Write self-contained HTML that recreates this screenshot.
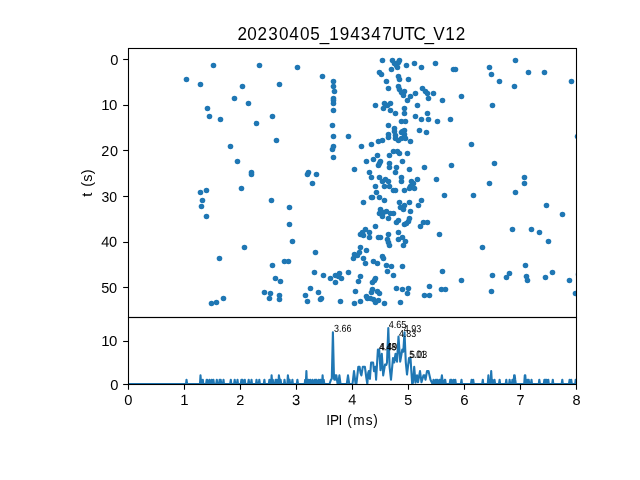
<!DOCTYPE html>
<html><head><meta charset="utf-8"><title>20230405_194347UTC_V12</title>
<style>
html,body{margin:0;padding:0;background:#fff;overflow:hidden;}
svg{display:block;will-change:transform;}
text{font-family:"Liberation Sans",sans-serif;fill:#000;}
</style></head><body>
<svg width="640" height="480" viewBox="0 0 640 480">
<rect x="0" y="0" width="640" height="480" fill="#ffffff"/>
<defs><clipPath id="c1"><rect x="128" y="48" width="448" height="269"/></clipPath>
<clipPath id="c2"><rect x="128" y="317" width="448" height="67"/></clipPath></defs>

<g clip-path="url(#c1)" fill="#1f77b4">
<circle cx="213.5" cy="65.5" r="2.78"/>
<circle cx="259.5" cy="65.5" r="2.78"/>
<circle cx="186.5" cy="79.5" r="2.78"/>
<circle cx="200.5" cy="84.5" r="2.78"/>
<circle cx="242.5" cy="86.5" r="2.78"/>
<circle cx="279.5" cy="84.5" r="2.78"/>
<circle cx="234.5" cy="98.5" r="2.78"/>
<circle cx="248.5" cy="103.5" r="2.78"/>
<circle cx="207.5" cy="108.5" r="2.78"/>
<circle cx="209.5" cy="116.5" r="2.78"/>
<circle cx="220.5" cy="119.5" r="2.78"/>
<circle cx="272.5" cy="116.5" r="2.78"/>
<circle cx="256.5" cy="123.5" r="2.78"/>
<circle cx="276.5" cy="140.5" r="2.78"/>
<circle cx="230.5" cy="146.5" r="2.78"/>
<circle cx="237.5" cy="161.5" r="2.78"/>
<circle cx="251.5" cy="172.5" r="2.78"/>
<circle cx="251.5" cy="174.5" r="2.78"/>
<circle cx="241.5" cy="188.5" r="2.78"/>
<circle cx="206.5" cy="190.5" r="2.78"/>
<circle cx="200.5" cy="192.5" r="2.78"/>
<circle cx="202.5" cy="200.5" r="2.78"/>
<circle cx="271.5" cy="200.5" r="2.78"/>
<circle cx="201.5" cy="206.5" r="2.78"/>
<circle cx="206.5" cy="216.5" r="2.78"/>
<circle cx="244.5" cy="247.5" r="2.78"/>
<circle cx="219.5" cy="258.5" r="2.78"/>
<circle cx="272.5" cy="265.5" r="2.78"/>
<circle cx="275.5" cy="278.5" r="2.78"/>
<circle cx="264.5" cy="292.5" r="2.78"/>
<circle cx="270.5" cy="293.5" r="2.78"/>
<circle cx="269.5" cy="298.5" r="2.78"/>
<circle cx="223.5" cy="298.5" r="2.78"/>
<circle cx="216.5" cy="302.5" r="2.78"/>
<circle cx="211.5" cy="303.5" r="2.78"/>
<circle cx="297.5" cy="67.5" r="2.78"/>
<circle cx="322.5" cy="76.5" r="2.78"/>
<circle cx="333.5" cy="81.5" r="2.78"/>
<circle cx="333.5" cy="86.5" r="2.78"/>
<circle cx="334.5" cy="91.5" r="2.78"/>
<circle cx="333.5" cy="98.5" r="2.78"/>
<circle cx="333.5" cy="100.5" r="2.78"/>
<circle cx="333.5" cy="103.5" r="2.78"/>
<circle cx="333.5" cy="110.5" r="2.78"/>
<circle cx="332.5" cy="125.5" r="2.78"/>
<circle cx="333.5" cy="136.5" r="2.78"/>
<circle cx="348.5" cy="136.5" r="2.78"/>
<circle cx="333.5" cy="146.5" r="2.78"/>
<circle cx="332.5" cy="149.5" r="2.78"/>
<circle cx="333.5" cy="157.5" r="2.78"/>
<circle cx="361.5" cy="146.5" r="2.78"/>
<circle cx="366.5" cy="161.5" r="2.78"/>
<circle cx="354.5" cy="169.5" r="2.78"/>
<circle cx="308.5" cy="172.5" r="2.78"/>
<circle cx="307.5" cy="174.5" r="2.78"/>
<circle cx="316.5" cy="174.5" r="2.78"/>
<circle cx="312.5" cy="183.5" r="2.78"/>
<circle cx="289.5" cy="207.5" r="2.78"/>
<circle cx="289.5" cy="224.5" r="2.78"/>
<circle cx="292.5" cy="241.5" r="2.78"/>
<circle cx="315.5" cy="252.5" r="2.78"/>
<circle cx="363.5" cy="202.5" r="2.78"/>
<circle cx="365.5" cy="229.5" r="2.78"/>
<circle cx="360.5" cy="234.5" r="2.78"/>
<circle cx="363.5" cy="235.5" r="2.78"/>
<circle cx="360.5" cy="247.5" r="2.78"/>
<circle cx="366.5" cy="250.5" r="2.78"/>
<circle cx="359.5" cy="252.5" r="2.78"/>
<circle cx="284.5" cy="261.5" r="2.78"/>
<circle cx="288.5" cy="261.5" r="2.78"/>
<circle cx="280.5" cy="281.5" r="2.78"/>
<circle cx="279.5" cy="295.5" r="2.78"/>
<circle cx="279.5" cy="299.5" r="2.78"/>
<circle cx="314.5" cy="272.5" r="2.78"/>
<circle cx="323.5" cy="275.5" r="2.78"/>
<circle cx="330.5" cy="278.5" r="2.78"/>
<circle cx="335.5" cy="275.5" r="2.78"/>
<circle cx="339.5" cy="273.5" r="2.78"/>
<circle cx="338.5" cy="276.5" r="2.78"/>
<circle cx="341.5" cy="278.5" r="2.78"/>
<circle cx="335.5" cy="282.5" r="2.78"/>
<circle cx="348.5" cy="272.5" r="2.78"/>
<circle cx="310.5" cy="288.5" r="2.78"/>
<circle cx="318.5" cy="292.5" r="2.78"/>
<circle cx="305.5" cy="295.5" r="2.78"/>
<circle cx="307.5" cy="301.5" r="2.78"/>
<circle cx="321.5" cy="298.5" r="2.78"/>
<circle cx="320.5" cy="299.5" r="2.78"/>
<circle cx="340.5" cy="301.5" r="2.78"/>
<circle cx="360.5" cy="276.5" r="2.78"/>
<circle cx="358.5" cy="281.5" r="2.78"/>
<circle cx="355.5" cy="291.5" r="2.78"/>
<circle cx="354.5" cy="303.5" r="2.78"/>
<circle cx="360.5" cy="301.5" r="2.78"/>
<circle cx="366.5" cy="296.5" r="2.78"/>
<circle cx="367.5" cy="298.5" r="2.78"/>
<circle cx="354.5" cy="254.5" r="2.78"/>
<circle cx="357.5" cy="255.5" r="2.78"/>
<circle cx="353.5" cy="258.5" r="2.78"/>
<circle cx="363.5" cy="258.5" r="2.78"/>
<circle cx="365.5" cy="263.5" r="2.78"/>
<circle cx="515.5" cy="60.5" r="2.78"/>
<circle cx="453.5" cy="69.5" r="2.78"/>
<circle cx="455.5" cy="69.5" r="2.78"/>
<circle cx="489.5" cy="67.5" r="2.78"/>
<circle cx="491.5" cy="74.5" r="2.78"/>
<circle cx="528.5" cy="72.5" r="2.78"/>
<circle cx="544.5" cy="72.5" r="2.78"/>
<circle cx="499.5" cy="81.5" r="2.78"/>
<circle cx="571.5" cy="81.5" r="2.78"/>
<circle cx="514.5" cy="86.5" r="2.78"/>
<circle cx="461.5" cy="96.5" r="2.78"/>
<circle cx="442.5" cy="100.5" r="2.78"/>
<circle cx="492.5" cy="105.5" r="2.78"/>
<circle cx="450.5" cy="119.5" r="2.78"/>
<circle cx="577.5" cy="136.5" r="2.78"/>
<circle cx="471.5" cy="144.5" r="2.78"/>
<circle cx="451.5" cy="165.5" r="2.78"/>
<circle cx="494.5" cy="163.5" r="2.78"/>
<circle cx="524.5" cy="177.5" r="2.78"/>
<circle cx="524.5" cy="183.5" r="2.78"/>
<circle cx="489.5" cy="183.5" r="2.78"/>
<circle cx="515.5" cy="192.5" r="2.78"/>
<circle cx="444.5" cy="195.5" r="2.78"/>
<circle cx="473.5" cy="195.5" r="2.78"/>
<circle cx="546.5" cy="205.5" r="2.78"/>
<circle cx="562.5" cy="214.5" r="2.78"/>
<circle cx="512.5" cy="229.5" r="2.78"/>
<circle cx="531.5" cy="229.5" r="2.78"/>
<circle cx="539.5" cy="232.5" r="2.78"/>
<circle cx="548.5" cy="241.5" r="2.78"/>
<circle cx="482.5" cy="247.5" r="2.78"/>
<circle cx="525.5" cy="265.5" r="2.78"/>
<circle cx="442.5" cy="271.5" r="2.78"/>
<circle cx="552.5" cy="272.5" r="2.78"/>
<circle cx="492.5" cy="275.5" r="2.78"/>
<circle cx="509.5" cy="273.5" r="2.78"/>
<circle cx="506.5" cy="277.5" r="2.78"/>
<circle cx="526.5" cy="276.5" r="2.78"/>
<circle cx="527.5" cy="280.5" r="2.78"/>
<circle cx="545.5" cy="277.5" r="2.78"/>
<circle cx="461.5" cy="280.5" r="2.78"/>
<circle cx="569.5" cy="280.5" r="2.78"/>
<circle cx="578.5" cy="274.5" r="2.78"/>
<circle cx="441.5" cy="289.5" r="2.78"/>
<circle cx="445.5" cy="289.5" r="2.78"/>
<circle cx="491.5" cy="291.5" r="2.78"/>
<circle cx="575.5" cy="293.5" r="2.78"/>
<circle cx="382.5" cy="60.5" r="2.78"/>
<circle cx="392.5" cy="60.5" r="2.78"/>
<circle cx="399.5" cy="60.5" r="2.78"/>
<circle cx="394.5" cy="63.5" r="2.78"/>
<circle cx="398.5" cy="62.5" r="2.78"/>
<circle cx="396.5" cy="65.5" r="2.78"/>
<circle cx="397.5" cy="67.5" r="2.78"/>
<circle cx="391.5" cy="69.5" r="2.78"/>
<circle cx="406.5" cy="65.5" r="2.78"/>
<circle cx="414.5" cy="63.5" r="2.78"/>
<circle cx="421.5" cy="67.5" r="2.78"/>
<circle cx="379.5" cy="72.5" r="2.78"/>
<circle cx="381.5" cy="74.5" r="2.78"/>
<circle cx="386.5" cy="81.5" r="2.78"/>
<circle cx="388.5" cy="88.5" r="2.78"/>
<circle cx="398.5" cy="76.5" r="2.78"/>
<circle cx="399.5" cy="79.5" r="2.78"/>
<circle cx="408.5" cy="79.5" r="2.78"/>
<circle cx="398.5" cy="86.5" r="2.78"/>
<circle cx="399.5" cy="89.5" r="2.78"/>
<circle cx="404.5" cy="91.5" r="2.78"/>
<circle cx="401.5" cy="92.5" r="2.78"/>
<circle cx="403.5" cy="95.5" r="2.78"/>
<circle cx="410.5" cy="96.5" r="2.78"/>
<circle cx="415.5" cy="93.5" r="2.78"/>
<circle cx="422.5" cy="88.5" r="2.78"/>
<circle cx="407.5" cy="100.5" r="2.78"/>
<circle cx="375.5" cy="105.5" r="2.78"/>
<circle cx="384.5" cy="103.5" r="2.78"/>
<circle cx="390.5" cy="103.5" r="2.78"/>
<circle cx="387.5" cy="105.5" r="2.78"/>
<circle cx="383.5" cy="108.5" r="2.78"/>
<circle cx="390.5" cy="110.5" r="2.78"/>
<circle cx="395.5" cy="113.5" r="2.78"/>
<circle cx="404.5" cy="108.5" r="2.78"/>
<circle cx="404.5" cy="113.5" r="2.78"/>
<circle cx="417.5" cy="105.5" r="2.78"/>
<circle cx="415.5" cy="116.5" r="2.78"/>
<circle cx="421.5" cy="119.5" r="2.78"/>
<circle cx="401.5" cy="121.5" r="2.78"/>
<circle cx="405.5" cy="121.5" r="2.78"/>
<circle cx="388.5" cy="125.5" r="2.78"/>
<circle cx="394.5" cy="128.5" r="2.78"/>
<circle cx="394.5" cy="131.5" r="2.78"/>
<circle cx="419.5" cy="130.5" r="2.78"/>
<circle cx="404.5" cy="130.5" r="2.78"/>
<circle cx="401.5" cy="132.5" r="2.78"/>
<circle cx="388.5" cy="134.5" r="2.78"/>
<circle cx="404.5" cy="134.5" r="2.78"/>
<circle cx="395.5" cy="135.5" r="2.78"/>
<circle cx="388.5" cy="137.5" r="2.78"/>
<circle cx="404.5" cy="137.5" r="2.78"/>
<circle cx="395.5" cy="138.5" r="2.78"/>
<circle cx="398.5" cy="140.5" r="2.78"/>
<circle cx="401.5" cy="138.5" r="2.78"/>
<circle cx="405.5" cy="138.5" r="2.78"/>
<circle cx="410.5" cy="141.5" r="2.78"/>
<circle cx="382.5" cy="140.5" r="2.78"/>
<circle cx="378.5" cy="141.5" r="2.78"/>
<circle cx="371.5" cy="144.5" r="2.78"/>
<circle cx="393.5" cy="151.5" r="2.78"/>
<circle cx="397.5" cy="151.5" r="2.78"/>
<circle cx="399.5" cy="153.5" r="2.78"/>
<circle cx="407.5" cy="153.5" r="2.78"/>
<circle cx="389.5" cy="155.5" r="2.78"/>
<circle cx="377.5" cy="155.5" r="2.78"/>
<circle cx="373.5" cy="159.5" r="2.78"/>
<circle cx="380.5" cy="161.5" r="2.78"/>
<circle cx="378.5" cy="165.5" r="2.78"/>
<circle cx="389.5" cy="163.5" r="2.78"/>
<circle cx="389.5" cy="167.5" r="2.78"/>
<circle cx="402.5" cy="161.5" r="2.78"/>
<circle cx="396.5" cy="167.5" r="2.78"/>
<circle cx="409.5" cy="169.5" r="2.78"/>
<circle cx="395.5" cy="172.5" r="2.78"/>
<circle cx="369.5" cy="172.5" r="2.78"/>
<circle cx="371.5" cy="177.5" r="2.78"/>
<circle cx="379.5" cy="177.5" r="2.78"/>
<circle cx="385.5" cy="179.5" r="2.78"/>
<circle cx="382.5" cy="181.5" r="2.78"/>
<circle cx="388.5" cy="181.5" r="2.78"/>
<circle cx="401.5" cy="177.5" r="2.78"/>
<circle cx="401.5" cy="181.5" r="2.78"/>
<circle cx="417.5" cy="179.5" r="2.78"/>
<circle cx="411.5" cy="181.5" r="2.78"/>
<circle cx="413.5" cy="183.5" r="2.78"/>
<circle cx="410.5" cy="186.5" r="2.78"/>
<circle cx="409.5" cy="188.5" r="2.78"/>
<circle cx="414.5" cy="188.5" r="2.78"/>
<circle cx="404.5" cy="190.5" r="2.78"/>
<circle cx="375.5" cy="186.5" r="2.78"/>
<circle cx="384.5" cy="186.5" r="2.78"/>
<circle cx="389.5" cy="186.5" r="2.78"/>
<circle cx="393.5" cy="190.5" r="2.78"/>
<circle cx="395.5" cy="190.5" r="2.78"/>
<circle cx="376.5" cy="192.5" r="2.78"/>
<circle cx="371.5" cy="197.5" r="2.78"/>
<circle cx="379.5" cy="197.5" r="2.78"/>
<circle cx="384.5" cy="200.5" r="2.78"/>
<circle cx="399.5" cy="202.5" r="2.78"/>
<circle cx="409.5" cy="202.5" r="2.78"/>
<circle cx="421.5" cy="200.5" r="2.78"/>
<circle cx="418.5" cy="205.5" r="2.78"/>
<circle cx="404.5" cy="205.5" r="2.78"/>
<circle cx="400.5" cy="207.5" r="2.78"/>
<circle cx="403.5" cy="209.5" r="2.78"/>
<circle cx="410.5" cy="211.5" r="2.78"/>
<circle cx="380.5" cy="209.5" r="2.78"/>
<circle cx="386.5" cy="211.5" r="2.78"/>
<circle cx="379.5" cy="213.5" r="2.78"/>
<circle cx="383.5" cy="212.5" r="2.78"/>
<circle cx="393.5" cy="213.5" r="2.78"/>
<circle cx="390.5" cy="213.5" r="2.78"/>
<circle cx="382.5" cy="216.5" r="2.78"/>
<circle cx="388.5" cy="218.5" r="2.78"/>
<circle cx="409.5" cy="218.5" r="2.78"/>
<circle cx="408.5" cy="221.5" r="2.78"/>
<circle cx="398.5" cy="220.5" r="2.78"/>
<circle cx="396.5" cy="222.5" r="2.78"/>
<circle cx="404.5" cy="224.5" r="2.78"/>
<circle cx="406.5" cy="223.5" r="2.78"/>
<circle cx="420.5" cy="226.5" r="2.78"/>
<circle cx="375.5" cy="226.5" r="2.78"/>
<circle cx="369.5" cy="232.5" r="2.78"/>
<circle cx="369.5" cy="237.5" r="2.78"/>
<circle cx="378.5" cy="237.5" r="2.78"/>
<circle cx="380.5" cy="237.5" r="2.78"/>
<circle cx="388.5" cy="234.5" r="2.78"/>
<circle cx="387.5" cy="239.5" r="2.78"/>
<circle cx="388.5" cy="242.5" r="2.78"/>
<circle cx="389.5" cy="245.5" r="2.78"/>
<circle cx="398.5" cy="232.5" r="2.78"/>
<circle cx="402.5" cy="237.5" r="2.78"/>
<circle cx="398.5" cy="239.5" r="2.78"/>
<circle cx="405.5" cy="241.5" r="2.78"/>
<circle cx="403.5" cy="245.5" r="2.78"/>
<circle cx="382.5" cy="256.5" r="2.78"/>
<circle cx="383.5" cy="258.5" r="2.78"/>
<circle cx="373.5" cy="261.5" r="2.78"/>
<circle cx="377.5" cy="263.5" r="2.78"/>
<circle cx="386.5" cy="265.5" r="2.78"/>
<circle cx="391.5" cy="266.5" r="2.78"/>
<circle cx="402.5" cy="266.5" r="2.78"/>
<circle cx="387.5" cy="271.5" r="2.78"/>
<circle cx="393.5" cy="275.5" r="2.78"/>
<circle cx="375.5" cy="278.5" r="2.78"/>
<circle cx="372.5" cy="282.5" r="2.78"/>
<circle cx="374.5" cy="280.5" r="2.78"/>
<circle cx="372.5" cy="289.5" r="2.78"/>
<circle cx="371.5" cy="292.5" r="2.78"/>
<circle cx="377.5" cy="291.5" r="2.78"/>
<circle cx="379.5" cy="293.5" r="2.78"/>
<circle cx="396.5" cy="288.5" r="2.78"/>
<circle cx="402.5" cy="289.5" r="2.78"/>
<circle cx="408.5" cy="288.5" r="2.78"/>
<circle cx="407.5" cy="293.5" r="2.78"/>
<circle cx="370.5" cy="298.5" r="2.78"/>
<circle cx="373.5" cy="299.5" r="2.78"/>
<circle cx="375.5" cy="302.5" r="2.78"/>
<circle cx="378.5" cy="300.5" r="2.78"/>
<circle cx="384.5" cy="303.5" r="2.78"/>
<circle cx="400.5" cy="302.5" r="2.78"/>
<circle cx="435.5" cy="63.5" r="2.78"/>
<circle cx="425.5" cy="91.5" r="2.78"/>
<circle cx="427.5" cy="93.5" r="2.78"/>
<circle cx="433.5" cy="93.5" r="2.78"/>
<circle cx="428.5" cy="98.5" r="2.78"/>
<circle cx="427.5" cy="113.5" r="2.78"/>
<circle cx="428.5" cy="119.5" r="2.78"/>
<circle cx="437.5" cy="121.5" r="2.78"/>
<circle cx="426.5" cy="132.5" r="2.78"/>
<circle cx="424.5" cy="167.5" r="2.78"/>
<circle cx="436.5" cy="179.5" r="2.78"/>
<circle cx="423.5" cy="222.5" r="2.78"/>
<circle cx="427.5" cy="222.5" r="2.78"/>
<circle cx="439.5" cy="234.5" r="2.78"/>
<circle cx="429.5" cy="286.5" r="2.78"/>
<circle cx="424.5" cy="295.5" r="2.78"/>
<circle cx="429.5" cy="295.5" r="2.78"/>
<circle cx="402.5" cy="131.5" r="2.78"/>
<circle cx="379.5" cy="163.5" r="2.78"/>
<circle cx="362.5" cy="232.5" r="2.78"/>
<circle cx="372.5" cy="197.5" r="2.78"/>
</g>
<g clip-path="url(#c2)"><polyline points="128.0,384.0 186.0,384.0 186.5,379.7 187.1,384.0 200.0,384.0 200.5,375.4 201.1,384.0 201.6,379.7 202.2,384.0 202.8,379.7 203.3,384.0 206.1,384.0 206.7,379.7 207.2,379.7 207.8,384.0 208.9,384.0 209.5,379.7 210.0,384.0 211.2,384.0 211.7,379.7 212.3,384.0 212.8,384.0 213.4,379.7 214.0,384.0 216.2,384.0 216.8,379.7 217.3,384.0 219.0,384.0 219.6,379.7 220.1,384.0 220.7,379.7 221.2,384.0 222.9,384.0 223.5,379.7 224.0,384.0 230.2,384.0 230.8,379.7 231.3,384.0 234.1,384.0 234.7,379.7 235.2,384.0 236.9,384.0 237.5,379.7 238.0,384.0 240.8,384.0 241.4,379.7 242.0,384.0 242.5,379.7 243.1,384.0 244.2,384.0 244.8,379.7 245.3,384.0 248.1,384.0 248.7,379.7 249.2,384.0 250.9,384.0 251.5,379.7 252.0,384.0 256.0,384.0 256.5,379.7 257.1,384.0 258.8,384.0 259.3,379.7 259.9,384.0 263.8,384.0 264.4,379.7 264.9,384.0 268.8,384.0 269.4,379.7 270.0,384.0 270.5,379.7 271.1,384.0 271.6,375.4 272.2,384.0 272.8,379.7 273.3,384.0 275.0,384.0 275.6,379.7 276.1,384.0 276.7,379.7 277.2,384.0 278.4,384.0 278.9,375.4 279.5,379.7 280.0,384.0 280.6,379.7 281.2,384.0 284.0,384.0 284.5,379.7 285.1,384.0 287.3,384.0 287.9,375.4 288.4,379.7 289.0,384.0 289.6,379.7 290.1,384.0 291.8,384.0 292.4,379.7 292.9,384.0 296.8,384.0 297.4,379.7 298.0,384.0 304.7,384.0 305.2,379.7 305.8,384.0 306.4,371.1 306.9,384.0 307.5,379.7 308.0,384.0 308.6,379.7 309.2,384.0 309.7,384.0 310.3,379.7 310.8,384.0 312.0,384.0 312.5,379.7 313.1,384.0 314.2,384.0 314.8,379.7 315.3,379.7 315.9,384.0 316.4,379.7 317.0,384.0 318.1,384.0 318.7,379.7 319.2,384.0 319.8,384.0 320.4,379.7 320.9,384.0 321.5,379.7 322.0,384.0 322.6,375.4 323.2,384.0 323.7,379.7 324.3,384.0 329.5,384.0 331.0,379.7 331.8,378.8 332.9,332.3 334.0,378.8 334.5,379.7 335.4,375.4 336.0,379.7 336.4,375.4 337.6,384.0 338.3,384.0 339.4,375.4 340.5,384.0 346.8,384.0 348.0,375.4 349.2,384.0 352.5,384.0 354.0,371.1 355.6,384.0 356.4,384.0 358.3,366.8 359.6,366.8 360.5,372.8 361.4,375.4 362.8,366.8 364.9,366.8 366.3,377.5 367.3,384.0 368.2,372.8 368.8,371.1 369.9,378.8 371.1,362.5 373.1,362.5 374.0,371.1 375.3,366.8 376.1,379.7 377.9,349.5 379.2,349.5 380.5,370.2 381.8,353.8 383.2,375.4 385.0,364.6 386.3,365.0 387.0,362.5 388.3,328.0 389.6,366.8 391.0,379.7 393.0,358.1 394.2,362.5 395.5,353.8 397.0,361.6 398.5,336.6 400.2,361.6 402.3,349.5 403.3,351.7 404.5,332.3 405.8,362.5 407.0,374.5 409.0,358.1 409.8,362.5 410.5,358.1 412.2,384.0 413.0,382.7 414.2,366.8 415.5,382.7 417.0,375.4 418.0,382.3 420.0,371.1 421.5,382.3 423.5,375.4 424.5,375.4 425.5,379.7 427.0,371.1 428.5,371.1 430.5,379.7 432.0,382.7 432.4,384.0 432.9,384.0 433.5,379.7 434.0,384.0 435.2,384.0 435.7,379.7 436.3,379.7 436.8,384.0 437.4,379.7 438.0,384.0 439.1,384.0 439.6,379.7 440.2,384.0 440.8,384.0 441.3,379.7 441.9,375.4 442.4,379.7 443.0,384.0 444.1,384.0 444.7,379.7 445.2,379.7 445.8,384.0 449.7,384.0 450.3,379.7 450.8,384.0 451.4,379.7 452.0,384.0 453.1,384.0 453.6,379.7 454.2,384.0 454.8,384.0 455.3,379.7 455.9,384.0 460.9,384.0 461.5,379.7 462.0,384.0 471.0,384.0 471.6,379.7 472.1,384.0 472.7,384.0 473.2,379.7 473.8,384.0 482.2,384.0 482.8,379.7 483.3,384.0 487.8,384.0 488.4,375.4 488.9,384.0 489.5,379.7 490.0,384.0 490.6,384.0 491.2,371.1 491.7,379.7 492.3,379.7 492.8,384.0 494.0,384.0 494.5,379.7 495.1,384.0 499.0,384.0 499.6,379.7 500.1,384.0 505.7,384.0 506.3,379.7 506.8,384.0 509.1,384.0 509.6,379.7 510.2,384.0 511.9,384.0 512.4,379.7 513.0,384.0 513.6,384.0 514.1,375.4 514.7,375.4 515.2,379.7 515.8,384.0 524.2,384.0 524.8,375.4 525.3,375.4 525.9,384.0 526.4,379.7 527.0,384.0 527.6,379.7 528.1,384.0 528.7,379.7 529.2,384.0 530.9,384.0 531.5,379.7 532.0,384.0 538.8,384.0 539.3,379.7 539.9,384.0 543.8,384.0 544.4,379.7 544.9,384.0 545.5,379.7 546.0,384.0 546.6,379.7 547.2,384.0 547.7,384.0 548.3,379.7 548.8,384.0 552.2,384.0 552.8,379.7 553.3,384.0 561.7,384.0 562.3,379.7 562.8,384.0 569.0,384.0 569.6,379.7 570.1,384.0 570.7,384.0 571.2,379.7 571.8,384.0 575.2,384.0 575.7,379.7 576.0,384.0" fill="none" stroke="#1f77b4" stroke-width="2.1" stroke-linejoin="round" stroke-linecap="butt"/></g>
<g fill="none" stroke="#000" stroke-width="1.1" stroke-linecap="square">
<rect x="128.5" y="48.5" width="448" height="269"/>
<rect x="128.5" y="317.5" width="448" height="67"/>
</g>
<g stroke="#000" stroke-width="1.1">
<line x1="123.15" x2="128.5" y1="59.50" y2="59.50"/>
<line x1="123.15" x2="128.5" y1="105.50" y2="105.50"/>
<line x1="123.15" x2="128.5" y1="150.50" y2="150.50"/>
<line x1="123.15" x2="128.5" y1="196.50" y2="196.50"/>
<line x1="123.15" x2="128.5" y1="242.50" y2="242.50"/>
<line x1="123.15" x2="128.5" y1="287.50" y2="287.50"/>
<line x1="123.15" x2="128.5" y1="384.50" y2="384.50"/>
<line x1="123.15" x2="128.5" y1="341.50" y2="341.50"/>
<line x1="128.50" x2="128.50" y1="384.5" y2="389.75"/>
<line x1="184.50" x2="184.50" y1="384.5" y2="389.75"/>
<line x1="240.50" x2="240.50" y1="384.5" y2="389.75"/>
<line x1="296.50" x2="296.50" y1="384.5" y2="389.75"/>
<line x1="352.50" x2="352.50" y1="384.5" y2="389.75"/>
<line x1="408.50" x2="408.50" y1="384.5" y2="389.75"/>
<line x1="464.50" x2="464.50" y1="384.5" y2="389.75"/>
<line x1="520.50" x2="520.50" y1="384.5" y2="389.75"/>
<line x1="576.50" x2="576.50" y1="384.5" y2="389.75"/>
</g>
<g>
<text x="110.23" y="65.19" font-size="14.70">0</text>
<text x="101.36" y="110.00" font-size="15.00" textLength="16.06" lengthAdjust="spacing">10</text>
<text x="101.21" y="156.07" font-size="14.50" textLength="16.81" lengthAdjust="spacing" transform="rotate(0.05 101.2 156.1)">20</text>
<text x="101.48" y="202.09" font-size="14.07" textLength="15.72" lengthAdjust="spacing">30</text>
<text x="101.21" y="246.81" font-size="14.50" textLength="15.81" lengthAdjust="spacing" transform="rotate(0.05 101.2 246.8)">40</text>
<text x="101.37" y="293.07" font-size="14.50" textLength="15.68" lengthAdjust="spacing">50</text>
<text x="110.23" y="390.19" font-size="14.70">0</text>
<text x="101.36" y="346.00" font-size="15.00" textLength="16.06" lengthAdjust="spacing">10</text>
<text x="124.23" y="405.19" font-size="14.70">0</text>
<text x="180.29" y="405.10" font-size="15.00" transform="rotate(0.05 180.3 405.1)">1</text>
<text x="236.36" y="405.08" font-size="14.50" transform="rotate(0.05 236.4 405.1)">2</text>
<text x="291.92" y="405.02" font-size="14.75" transform="rotate(0.05 291.9 405.0)">3</text>
<text x="348.30" y="404.57" font-size="14.60" transform="rotate(0.05 348.3 404.6)">4</text>
<text x="404.26" y="404.92" font-size="14.20">5</text>
<text x="460.29" y="405.29" font-size="15.05">6</text>
<text x="516.49" y="404.95" font-size="14.40" transform="rotate(0.05 516.5 404.9)">7</text>
<text x="572.39" y="405.09" font-size="14.50">8</text>
<text x="334.11" y="331.64" font-size="10.07" textLength="17.51" lengthAdjust="spacingAndGlyphs" transform="rotate(0.05 334.1 331.6)">3.66</text>
<text x="388.75" y="328.11" font-size="10.35" textLength="17.61" lengthAdjust="spacingAndGlyphs" transform="rotate(0.05 388.8 328.1)">4.65</text>
<text x="398.91" y="336.88" font-size="10.07" textLength="17.32" lengthAdjust="spacingAndGlyphs" transform="rotate(0.05 398.9 336.9)">4.83</text>
<text x="403.70" y="332.24" font-size="10.40" textLength="17.44" lengthAdjust="spacingAndGlyphs" transform="rotate(0.05 403.7 332.2)">4.93</text>
<text x="378.92" y="350.27" font-size="10.40" textLength="17.24" lengthAdjust="spacingAndGlyphs" transform="rotate(0.05 378.9 350.3)">4.48</text>
<text x="379.90" y="350.22" font-size="10.45" textLength="17.14" lengthAdjust="spacingAndGlyphs" transform="rotate(0.05 379.9 350.2)">4.49</text>
<text x="409.24" y="358.04" font-size="10.70" textLength="16.33" lengthAdjust="spacingAndGlyphs" transform="rotate(0.05 409.2 358.0)">5.01</text>
<text x="409.94" y="357.85" font-size="9.93" textLength="17.15" lengthAdjust="spacingAndGlyphs" transform="rotate(0.05 409.9 357.9)">5.03</text>
<text transform="translate(0,39.62) scale(0.9400,1)" x="252.58 263.00 273.99 285.51 296.78 307.85 319.12 330.15 340.06 350.37 361.56 372.74 383.78 394.95 406.71 417.06 429.97 439.97 451.63 460.83 473.77 484.90" y="0" font-size="18.20">20230405_194347UTC_V12</text>
<text transform="translate(0,424.82) scale(0.9525,1)" x="342.53 346.42 355.26 359.58 364.60 370.93 384.06 391.82" y="0" font-size="14.35">IPI (ms)</text>
<text transform="translate(91.94,197.38) rotate(-90) scale(0.9700,1)" x="0.55 5.67 10.85 16.05 23.93" y="0" font-size="15.00">t (s)</text>
</g>
</svg></body></html>
